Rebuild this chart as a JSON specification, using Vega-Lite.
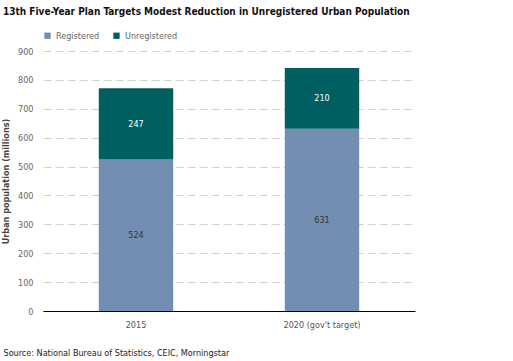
{
  "$schema": "https://vega.github.io/schema/vega-lite/v6.json",
  "width": 372,
  "height": 260,
  "autosize": {"type": "none"},
  "padding": {"left": 43, "top": 51, "right": 98, "bottom": 50},
  "background": "white",
  "title": {
    "text": "13th Five-Year Plan Targets Modest Reduction in Unregistered Urban Population",
    "anchor": "start",
    "frame": "group",
    "dx": -40,
    "offset": 14,
    "font": "'Liberation Sans Narrow', 'DejaVu Sans Condensed', 'Liberation Sans', sans-serif",
    "fontSize": 10,
    "fontWeight": "bold",
    "color": "#111111"
  },
  "config": {
    "view": {"stroke": null},
    "font": "'Liberation Sans Narrow', 'DejaVu Sans Condensed', 'Liberation Sans', sans-serif",
    "axis": {
      "labelFont": "'Liberation Sans Narrow', 'DejaVu Sans Condensed', 'Liberation Sans', sans-serif",
      "titleFont": "'Liberation Sans Narrow', 'DejaVu Sans Condensed', 'Liberation Sans', sans-serif"
    },
    "legend": {"labelFont": "'Liberation Sans Narrow', 'DejaVu Sans Condensed', 'Liberation Sans', sans-serif"}
  },
  "data": {
    "values": [
      {"year": "2015", "status": "Registered", "value": 524},
      {"year": "2015", "status": "Unregistered", "value": 247},
      {"year": "2020 (gov't target)", "status": "Registered", "value": 631},
      {"year": "2020 (gov't target)", "status": "Unregistered", "value": 210}
    ]
  },
  "transform": [
    {"stack": "value", "groupby": ["year"], "sort": [{"field": "status", "order": "ascending"}], "as": ["v0", "v1"]},
    {"calculate": "(datum.v0 + datum.v1) / 2", "as": "mid"}
  ],
  "encoding": {
    "x": {
      "field": "year",
      "type": "nominal",
      "scale": {"paddingInner": 0.6, "paddingOuter": 0.3},
      "axis": {
        "title": "Source: National Bureau of Statistics, CEIC, Morningstar",
        "titleAnchor": "start",
        "titleAlign": "left",
        "titleX": -40,
        "titleY": 44,
        "titleBaseline": "alphabetic",
        "titleFontSize": 9,
        "titleFontWeight": "normal",
        "titleColor": "#222222",
        "labelAngle": 0,
        "labelFontSize": 9,
        "labelColor": "#555555",
        "labelPadding": 9,
        "ticks": false,
        "domainColor": "#000000",
        "domainWidth": 1.2
      }
    }
  },
  "layer": [
    {
      "mark": {"type": "bar"},
      "encoding": {
        "y": {
          "field": "v0",
          "type": "quantitative",
          "scale": {"domain": [0, 900]},
          "axis": {
            "title": "Urban population (millions)",
            "titleFontSize": 9,
            "titleFontWeight": "bold",
            "titleColor": "#444444",
            "titleX": -33,
            "values": [0, 100, 200, 300, 400, 500, 600, 700, 800, 900],
            "labelOverlap": false,
            "labelFontSize": 9,
            "labelColor": "#666666",
            "labelPadding": 10,
            "ticks": false,
            "domain": false,
            "gridColor": "#d0d0d0",
            "gridDash": [8, 4],
            "gridWidth": 1
          }
        },
        "y2": {"field": "v1"},
        "color": {
          "field": "status",
          "type": "nominal",
          "scale": {"domain": ["Registered", "Unregistered"], "range": ["#738eb2", "#005f61"]},
          "legend": {
            "title": null,
            "orient": "none",
            "direction": "horizontal",
            "legendX": 0,
            "legendY": -20,
            "symbolType": "square",
            "symbolSize": 40,
            "symbolStrokeWidth": 0,
            "labelFontSize": 9,
            "labelColor": "#666666",
            "columnPadding": 12,
            "labelOffset": 4
          }
        }
      }
    },
    {
      "mark": {"type": "text", "fontSize": 9, "baseline": "middle"},
      "encoding": {
        "y": {
          "field": "mid",
          "type": "quantitative",
          "scale": {"domain": [0, 900]},
          "axis": {
            "title": "Urban population (millions)",
            "titleFontSize": 9,
            "titleFontWeight": "bold",
            "titleColor": "#444444",
            "titleX": -33,
            "values": [0, 100, 200, 300, 400, 500, 600, 700, 800, 900],
            "labelOverlap": false,
            "labelFontSize": 9,
            "labelColor": "#666666",
            "labelPadding": 10,
            "ticks": false,
            "domain": false,
            "gridColor": "#d0d0d0",
            "gridDash": [8, 4],
            "gridWidth": 1
          }
        },
        "text": {"field": "value", "type": "quantitative"},
        "color": {
          "condition": {"test": "datum.status === 'Unregistered'", "value": "#ffffff"},
          "value": "#333333"
        }
      }
    }
  ]
}
